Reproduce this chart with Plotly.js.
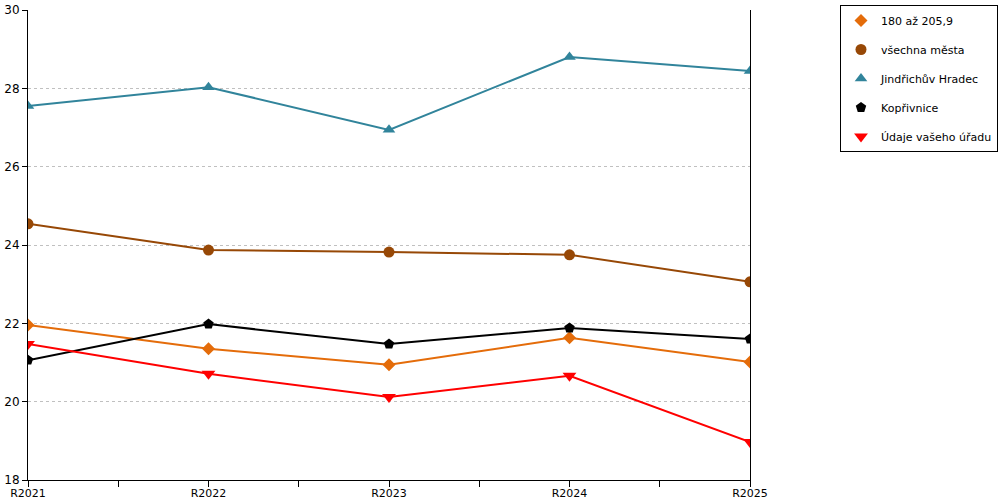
<!DOCTYPE html>
<html>
<head>
<meta charset="utf-8">
<script src="https://cdn.plot.ly/plotly-3.0.1.min.js"></script>
<style>html,body{margin:0;padding:0;background:#fff}#chart{width:1000px;height:500px}</style>
</head>
<body>
<div id="chart"></div>
<script>
const categories = ["R2021", "R2022", "R2023", "R2024", "R2025"];
const seriesNames = ["180 až 205,9", "všechna města", "Jindřichův Hradec", "Kopřivnice", "Údaje vašeho úřadu"];
const vals180 = [21.96, 21.35, 20.94, 21.63, 21.01];
const valsVsechna = [24.54, 23.87, 23.82, 23.75, 23.06];
const valsJH = [27.55, 28.03, 26.94, 28.80, 28.44];
const valsKoprivnice = [21.06, 21.98, 21.47, 21.88, 21.60];
const valsUrad = [21.47, 20.71, 20.12, 20.66, 18.97];
const yTicks = [18, 20, 22, 24, 26, 28, 30];

const seriesVals = [vals180, valsVsechna, valsJH, valsKoprivnice, valsUrad];
const colors = ["#E46C0A", "#974806", "#31849B", "#000000", "#FF0000"];
const symbols = ["diamond", "circle", "triangle-up", "pentagon", "triangle-down"];
const sizes = [10, 11, 11, 11, 12];

const xIdx = categories.map((c, i) => i);
const traces = [];
seriesVals.forEach((v, k) => {
  traces.push({
    x: xIdx, y: v, type: "scatter", mode: "lines",
    line: {color: colors[k], width: 2}, showlegend: false, hoverinfo: "skip"
  });
});
seriesVals.forEach((v, k) => {
  traces.push({
    x: xIdx, y: v, type: "scatter", mode: "markers", name: seriesNames[k],
    legendgroup: "g" + k,
    marker: {color: colors[k], symbol: symbols[k], size: sizes[k]}
  });
});

const tickvals = [], ticktext = [];
categories.forEach((c, i) => {
  tickvals.push(i); ticktext.push(c);
  if (i < categories.length - 1) { tickvals.push(i + 0.5); ticktext.push(""); }
});

const layout = {
  width: 1000, height: 500,
  margin: {l: 28, r: 250, t: 10, b: 20},
  paper_bgcolor: "#fff", plot_bgcolor: "#fff",
  font: {family: "DejaVu Sans, Verdana, sans-serif", size: 12, color: "#000"},
  xaxis: {
    type: "linear", range: [0, categories.length - 1],
    tickmode: "array", tickvals: tickvals, ticktext: ticktext,
    ticks: "outside", ticklen: 6, tickcolor: "#000", tickwidth: 1,
    ticklabelstandoff: -3,
    showgrid: false, zeroline: false,
    showline: true, linecolor: "#000", linewidth: 1,
    tickfont: {size: 11}
  },
  yaxis: {
    range: [18, 30], tickmode: "array", tickvals: yTicks,
    ticks: "outside", ticklen: 5, tickcolor: "#000",
    showgrid: true, gridcolor: "#c0c0c0", griddash: "dot", gridwidth: 1,
    zeroline: false, showline: true, linecolor: "#000", linewidth: 1, mirror: true,
    tickfont: {size: 12}
  },
  legend: {
    xref: "container", yref: "container", x: 0.998, y: 0.99,
    xanchor: "right", yanchor: "top",
    bgcolor: "#fff", bordercolor: "#000", borderwidth: 1,
    font: {size: 11}, traceorder: "grouped", tracegroupgap: 10, itemwidth: 30
  },
  showlegend: true
};

Plotly.newPlot("chart", traces, layout, {displayModeBar: false, staticPlot: true});
</script>
</body>
</html>
